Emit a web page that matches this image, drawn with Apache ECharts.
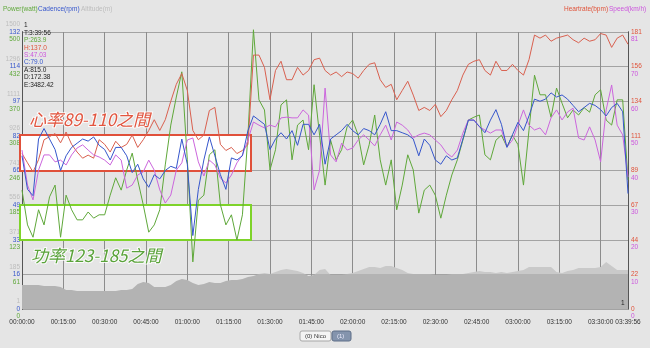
<!DOCTYPE html>
<html><head><meta charset="utf-8">
<script src="https://cdn.jsdelivr.net/npm/echarts@6/dist/echarts.min.js"></script>
<style>html,body{margin:0;padding:0;background:#e5e5e5;}#c{width:650px;height:348px;}</style>
</head><body><div id="c"></div>
<script>
// time in minutes
const times = [0,2,4,6,8,10,12,14,16,18,20,22,24,26,28,30,32,34,36,38,40,42,44,46,48,50,52,54,56,58,60,62,64,66,68,70,72,74,76,78,80,82,84,86,88,90,92,94,96,98,100,102,104,106,108,110,112,114,116,118,120,122,124,126,128,130,132,134,136,138,140,142,144,146,148,150,152,154,156,158,160,162,164,166,168,170,172,174,176,178,180,182,184,186,188,190,192,194,196,198,200,202,204,206,208,210,212,214,216,218,219.933];
const power = [212,150,128,177,150,200,221,128,203,177, 159,159,173,162,168,168,203,234,212,248, 278,230,186,137,150,177,257,328,378,423, 266,84,194,203,275,284,186,150,168,123, 168,310,498,373,355,248,284,364,373,266, 328,337,284,400,310,221,301,266,284,325, 337,310,257,293,346,266,221,266,177,221, 275,248,171,212,221,203,162,203,239,266, 301,337,342,346,275,266,301,310,289,310, 293,221,319,417,382,382,342,394,367,341, 355,346,359,351,382,391,337,328,373,373, 230];
const heartrate = [101,95,89,97,110,112,114,108,115,107, 102,98,100,98,110,107,102,109,105,107, 113,105,110,116,123,116,123,135,146,153, 142,116,110,113,129,131,107,103,105,101, 103,107,165,165,157,136,155,161,149,149, 157,152,155,162,163,155,152,154,151,154, 153,150,155,159,160,149,144,146,136,142, 148,139,129,131,129,133,125,129,136,142, 152,159,161,162,155,152,161,155,155,159, 155,152,162,178,176,178,174,176,177,178, 175,173,176,174,175,179,178,170,176,178, 172];
const cadence = [73,57,54,81,86,81,76,66,73,77, 79,81,80,82,78,76,71,77,77,73, 65,69,62,58,64,62,66,68,67,81, 69,35,57,71,82,73,64,57,72,71, 73,85,92,90,88,76,81,84,81,85, 78,88,88,83,88,69,81,83,85,88, 85,83,86,85,83,88,94,85,85,84, 83,81,73,81,78,71,69,73,71,72, 81,90,90,87,84,90,95,88,77,83, 89,85,92,100,99,100,103,101,102,100, 97,94,96,98,97,95,92,96,98,94, 55];
const speed = [45.9,35.8,31.5,40.1,44.5,44.5,42.5,43,41.6,44.5, 46.5,47.4,45.9,44.5,43.9,43,41.6,44.5,43,34.9, 35.8,38.7,39.6,43,40.1,34.4,30.6,32.9,40.1,42.2, 48.8,49.4,42.5,38.4,43,41.6,37.8,36.4,38.7,42.2, 44.5,48.8,54,53.1,52.3,53.1,52.6,55.2,55.4,55.2, 55.2,57.5,56,34.4,40.1,63.8,44.5,42.5,47.9,45.9, 46.5,48.8,50.3,48.8,47.1,50.3,53.1,48.8,54,53.1, 51.7,49.4,50.3,50.8,50.3,48.8,47.4,45.1,43.9,45.9, 50.8,54.6,54.6,52.6,51.7,50.8,51.7,51.7,46.8,48.8, 53.1,57.5,53.1,51.7,52.3,50.3,55.2,57.5,54.6,56.9, 58,49.4,48.8,52.6,48.8,42.5,57.5,64.7,53.1,50.3, 38.1];
const altitude = [128,128,128,128,123,123,123,118,102,102, 96,96,96,96,96,96,96,96,102,102, 107,134,145,139,118,118,118,128,150,161, 155,139,128,134,145,139,139,150,155,155, 161,171,177,187,193,187,198,209,214,209, 203,193,177,182,209,214,182,182,182,187, 193,203,214,225,225,219,230,230,219,209, 193,187,187,187,187,182,182,182,187,187, 187,193,198,203,198,198,193,198,193,198, 203,209,225,225,225,225,225,198,193,203, 209,219,219,219,219,225,251,230,209,209, 209];

// tick labels
const xTicks = [0,15,30,45,60,75,90,105,120,135,150,165,180,195,210];
const xLabelValues = [0,15,30,45,60,75,90,105,120,135,150,165,180,195,210,219.933];
const powerTicks = ['0','61','123','185','246','308','370','432','500'];
const cadenceTicks = ['0','16','33','49','66','82','97','114','132'];
const altitudeTicks = ['1','185','371','556','741','926','1111','1296','1500'];
const hrTicks = ['0','22','44','67','89','111','134','156','181'];
const speedTicks = ['0','10','20','30','40','50','60','70','81'];

const C = {power:'#5fa83a', cadence:'#3656cc', hr:'#d9604f', speed:'#cc66dd'};
const F = 'Liberation Sans';
const GT = 32, GB = 39, H = 348;
const pair = a => times.map((t,i)=>[t,a[i]]);
// shift: -1 label above gridline, 0 on it, +1 below it
const lab = (arr, step, shift) => v => { const i = Math.round(v/step); const s = arr[i] !== undefined ? arr[i] : ''; return shift<0 ? s+'\n ' : shift>0 ? ' \n'+s : s; };
const fmt = v => { const s = Math.round(v*60); const h=Math.floor(s/3600), m=Math.floor(s%3600/60), sec=s%60; const p=n=>String(n).padStart(2,'0'); return p(h)+':'+p(m)+':'+p(sec); };

function yax(pos, max, step, ticks, color, shift, extra){
  return Object.assign({
    type:'value', position:pos, min:0, max:max, interval:step,
    axisLine:{show:true, lineStyle:{color:'#555', width:1}},
    axisTick:{show:false},
    splitLine:{show:false},
    axisLabel:{formatter:lab(ticks,step,shift), color:color, fontSize:6.5, fontFamily:F, lineHeight:15, margin:pos==='left'?2:3}
  }, extra||{});
}

const lineY = H - GB - (H - GT - GB)/8; // first gridline above the bottom
const altFill = new echarts.graphic.LinearGradient(0,0,0,H,[
  {offset:0, color:'#c9c9c9'},{offset:lineY/H, color:'#c9c9c9'},
  {offset:lineY/H, color:'#b3b3b3'},{offset:1, color:'#b3b3b3'}], true);

const chart = echarts.init(document.getElementById('c'));
chart.setOption({
  animation:false,
  backgroundColor:'#e5e5e5',
  grid:{left:22,right:22,top:GT,bottom:GB},
  xAxis:{type:'value', min:0, max:219.933, interval:15,
    axisLine:{show:false}, axisTick:{show:false},
    splitLine:{show:true, lineStyle:{color:'#8c8c8c', width:1}},
    axisLabel:{customValues:xLabelValues, formatter:fmt, fontSize:6.5, fontFamily:F, color:'#333', margin:10}},
  yAxis:[
    yax('left',494,61.75,powerTicks,C.power,1),
    yax('left',132,16.5,cadenceTicks,C.cadence,0),
    yax('left',1482,185.25,altitudeTicks,'#bdbdbd',-1),
    yax('right',180,22.5,hrTicks,'#e0533a',0,{splitLine:{show:true,lineStyle:{color:'#a3a3a3',width:1}}}),
    yax('right',80,10,speedTicks,'#cc55dd',1)
  ],
  series:[
    {type:'line', name:'Altitude', yAxisIndex:2, data:pair(altitude), symbol:'none', lineStyle:{width:0}, itemStyle:{color:'#c9c9c9'}, areaStyle:{opacity:1, color:altFill}, z:1},
    {type:'line', name:'Power', yAxisIndex:0, data:pair(power), symbol:'none', clip:false, lineStyle:{width:1,color:C.power}, itemStyle:{color:C.power}, z:3},
    {type:'line', name:'Heartrate', yAxisIndex:3, data:pair(heartrate), symbol:'none', lineStyle:{width:1,color:C.hr}, itemStyle:{color:C.hr}, z:4},
    {type:'line', name:'Speed', yAxisIndex:4, data:pair(speed), symbol:'none', lineStyle:{width:1,color:C.speed}, itemStyle:{color:C.speed}, z:5},
    {type:'line', name:'Cadence', yAxisIndex:1, data:pair(cadence), symbol:'none', lineStyle:{width:1,color:C.cadence}, itemStyle:{color:C.cadence}, z:6}
  ],
  graphic:[
    {type:'rect', z:1, shape:{x:20,y:135,width:231,height:36}, style:{fill:'#ffffff', stroke:'#e0503a', lineWidth:2}},
    {type:'rect', z:1, shape:{x:20,y:205,width:231,height:35}, style:{fill:'#ffffff', stroke:'#7ed32a', lineWidth:2}},
    {type:'text', z:20, left:28, top:110, style:{text:'心率89-110之間', fill:'#e2553f', font:'italic 17px "Noto Sans CJK TC"', stroke:'rgba(255,255,255,0.85)', lineWidth:2}},
    {type:'text', z:20, left:30, top:246, style:{text:'功率123-185之間', fill:'#5aa33a', font:'italic 17px "Noto Sans CJK TC"', stroke:'rgba(255,255,255,0.85)', lineWidth:2}},
    {type:'text', left:3, top:6, style:{text:'Power(watt)', fill:C.power, font:'6.5px '+F}},
    {type:'text', left:38, top:6, style:{text:'Cadence(rpm)', fill:C.cadence, font:'6.5px '+F}},
    {type:'text', left:81, top:6, style:{text:'Altitude(m)', fill:'#bdbdbd', font:'6.5px '+F}},
    {type:'text', left:564, top:6, style:{text:'Heartrate(bpm)', fill:'#e0533a', font:'6.5px '+F}},
    {type:'text', left:609, top:6, style:{text:'Speed(km/h)', fill:'#cc55dd', font:'6.5px '+F}},
    {type:'text', z:20, left:24, top:22, style:{text:'1\nT:3:39:56', fill:'#222', font:'6.5px '+F, lineHeight:7.4}},
    {type:'text', z:20, left:24, top:37, style:{text:'P:263.9', fill:C.power, font:'6.5px '+F}},
    {type:'text', z:20, left:24, top:44.4, style:{text:'H:137.0', fill:'#e0533a', font:'6.5px '+F}},
    {type:'text', z:20, left:24, top:51.8, style:{text:'S:47.03', fill:'#cc55dd', font:'6.5px '+F}},
    {type:'text', z:20, left:24, top:59.2, style:{text:'C:79.0', fill:C.cadence, font:'6.5px '+F}},
    {type:'text', z:20, left:24, top:66.6, style:{text:'A:815.0\nD:172.38\nE:3482.42', fill:'#222', font:'6.5px '+F, lineHeight:7.4}},
    {type:'text', z:20, left:621, top:300, style:{text:'1', fill:'#222', font:'6.5px '+F}},
    {type:'rect', shape:{x:300,y:331,width:31,height:10,r:2}, style:{fill:'#f4f4f4', stroke:'#a8a8a8', lineWidth:1}},
    {type:'text', left:305, top:333, style:{text:'(0) Nico', fill:'#333', font:'6px '+F}},
    {type:'rect', shape:{x:332,y:331,width:19,height:10,r:2}, style:{fill:'#8494ad', stroke:'#5f6f88', lineWidth:1}},
    {type:'text', left:337, top:333, style:{text:'(1)', fill:'#eef', font:'6px '+F}}
  ]
});
</script></body></html>
